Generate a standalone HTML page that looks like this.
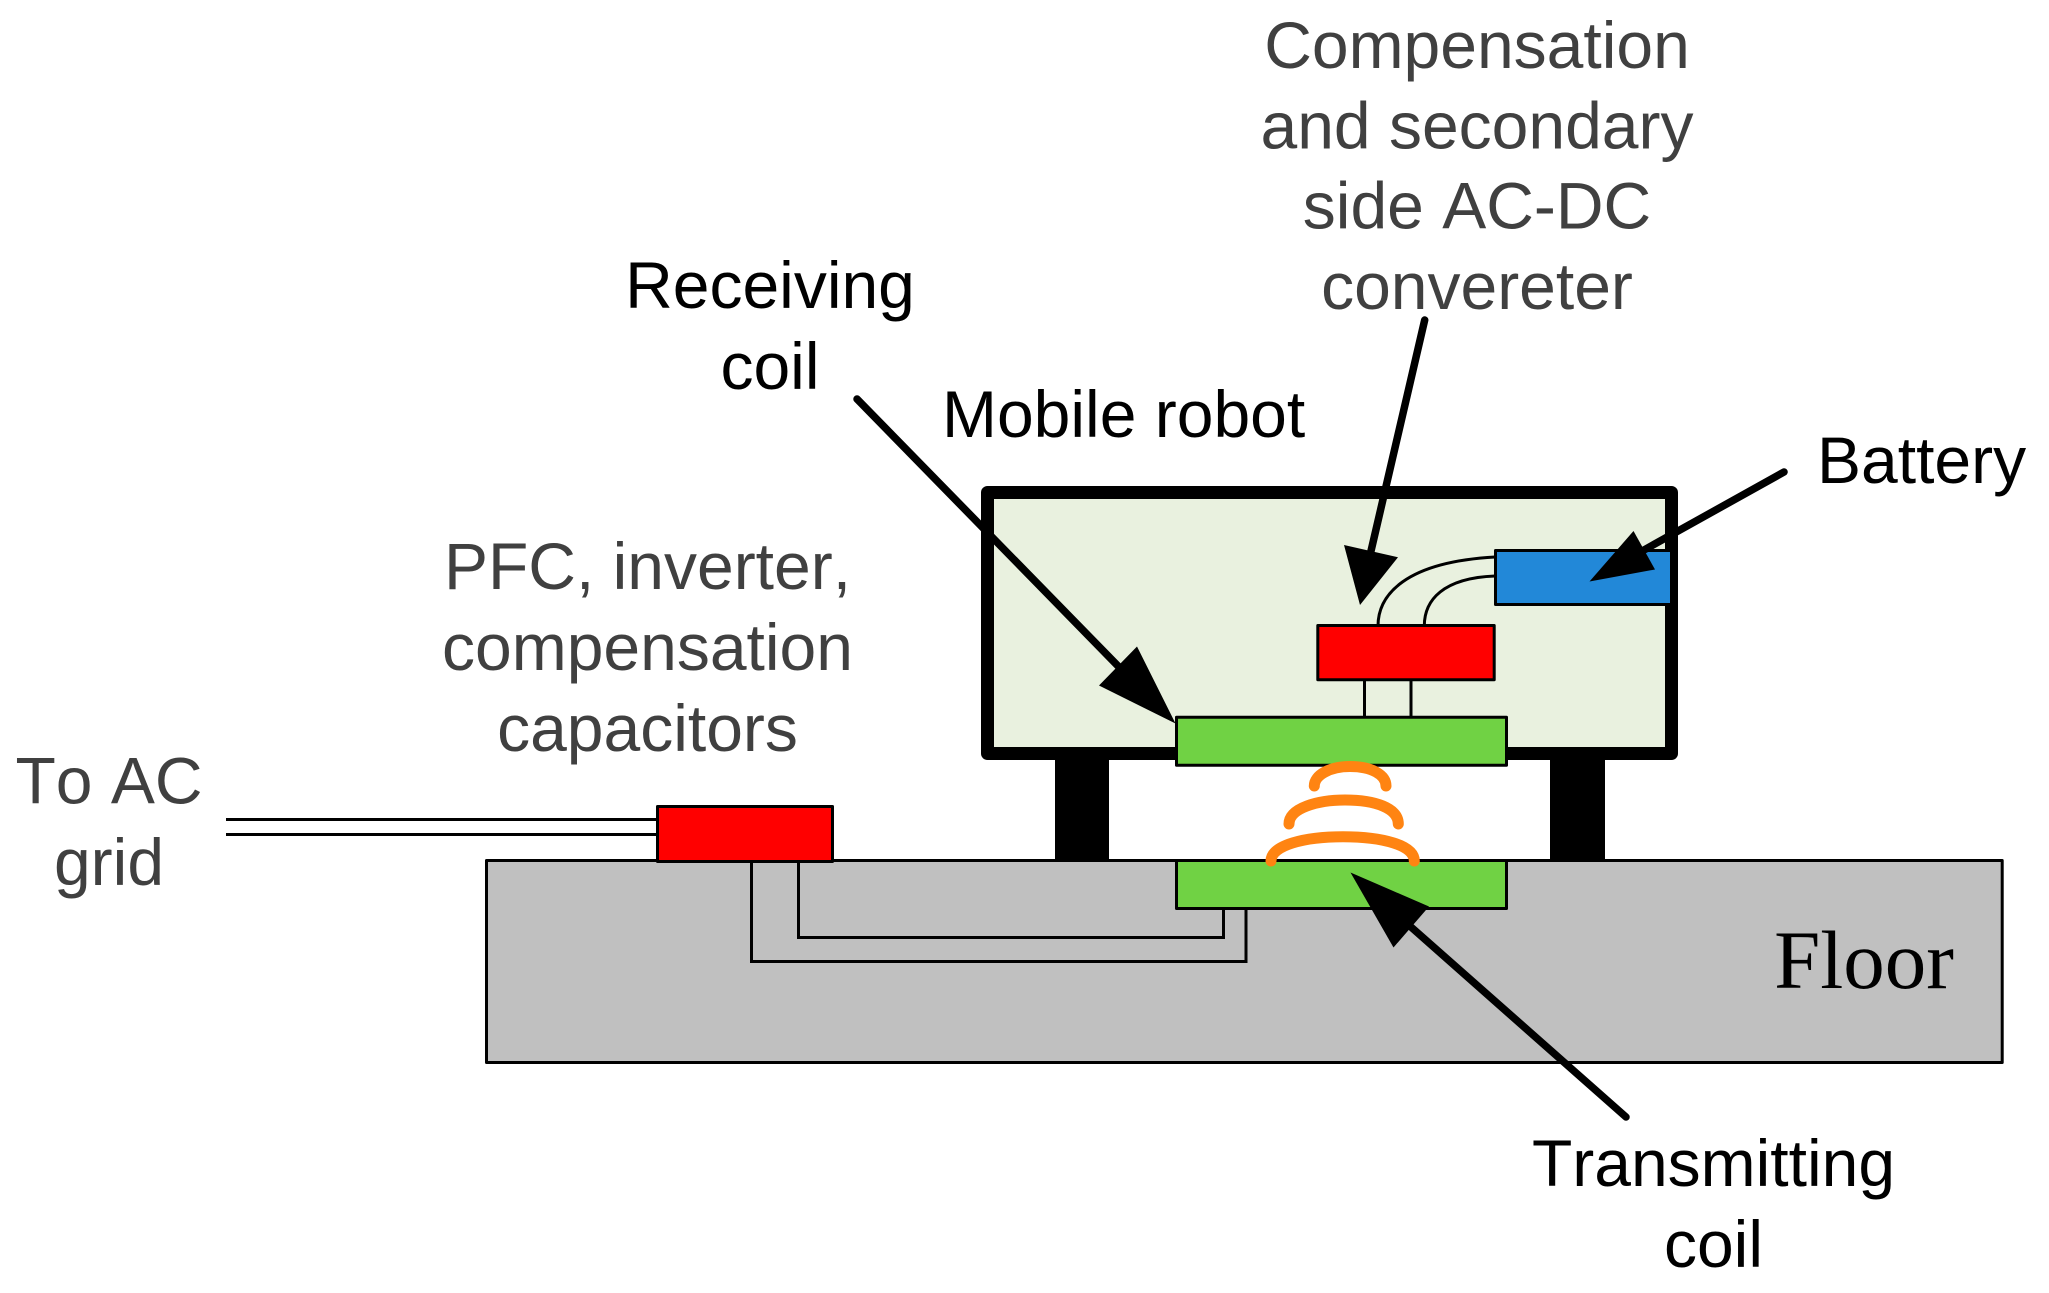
<!DOCTYPE html>
<html><head><meta charset="utf-8"><title>Wireless charging diagram</title>
<style>html,body{margin:0;padding:0;background:#fff}svg{display:block}
text{font-family:"Liberation Sans",Arial,sans-serif;font-size:66px;text-anchor:middle;font-kerning:none}
.g{fill:#404040}.k{fill:#000}</style></head>
<body>
<svg width="2049" height="1293" viewBox="0 0 2049 1293" xmlns="http://www.w3.org/2000/svg">
<rect width="2049" height="1293" fill="#fff"/>
<!-- floor -->
<rect x="486.500" y="860.500" width="1515.700" height="202" fill="#c0c0c0" stroke="#000" stroke-width="3" stroke-linejoin="round"/>
<!-- grid wires -->
<g fill="none" stroke="#000" stroke-width="3">
<path d="M226 819.500H658M226 834.500H658"/>
<path d="M798.500 862V937.500H1223.500V908"/>
<path d="M751.500 862V961.500H1246V908"/>
</g>
<!-- legs -->
<rect x="1055" y="755" width="54" height="105" fill="#000"/>
<rect x="1550" y="755" width="55" height="105" fill="#000"/>
<!-- robot -->
<rect x="987.500" y="492.500" width="684" height="261" fill="#e9f1df" stroke="#000" stroke-width="13" stroke-linejoin="round"/>
<!-- inner wires -->
<g fill="none" stroke="#000" stroke-width="3">
<path d="M1364.500 680V717M1411 680V717"/>
<path d="M1378 626C1378 595 1405 562 1495 557"/>
<path d="M1424.300 626C1424.300 600 1443 578 1495 576"/>
</g>
<!-- boxes -->
<g stroke="#000" stroke-width="3" stroke-linejoin="round">
<rect x="1495.500" y="550.500" width="176" height="54" fill="#2288d8"/>
<rect x="1317.800" y="625.500" width="176.400" height="54.300" fill="#ff0000"/>
<rect x="1176.500" y="717.300" width="330" height="48" fill="#70d244"/>
<rect x="1176.500" y="860.500" width="330" height="48" fill="#70d244"/>
<rect x="657.500" y="806.500" width="175" height="55" fill="#ff0000"/>
</g>
<!-- coil arcs -->
<g fill="none" stroke="#ff8412" stroke-width="11" stroke-linecap="round">
<path d="M1314.300 786C1314.300 775 1330 766.500 1350 766.500C1372 766.500 1386 775 1386 786"/>
<path d="M1289 824C1289 808 1318 800 1345 800C1375 800 1398.300 808 1398.300 824"/>
<path d="M1271 861C1271 845 1305 836.700 1343 836.700C1382 836.700 1414.300 845 1414.300 861"/>
</g>
<!-- arrows -->
<g stroke="#000" stroke-width="7.500" stroke-linecap="round" fill="none">
<path d="M857 399L1118 666"/>
<path d="M1424.700 320L1371 551"/>
<path d="M1784 472L1644 550"/>
<path d="M1626 1117L1411 927"/>
</g>
<g fill="#000">
<path d="M1175.500 723.500L1137 646.500L1099 685.500Z"/>
<path d="M1360 605L1344 545L1398 557.300Z"/>
<path d="M1589.500 581.500L1633.500 531L1655 569.500Z"/>
<path d="M1350.500 872.500L1429 906.500L1393.500 947.500Z"/>
</g>
<!-- labels -->
<text class="g" x="1477" y="68">Compensation</text>
<text class="g" x="1477" y="148.500">and secondary</text>
<text class="g" x="1477" y="228.500">side AC-DC</text>
<text class="g" x="1477" y="309">convereter</text>
<text class="g" x="647.500" y="589">PFC, inverter,</text>
<text class="g" x="647.500" y="670">compensation</text>
<text class="g" x="647.500" y="751">capacitors</text>
<text class="g" x="109" y="803.500">To AC</text>
<text class="g" x="109" y="885">grid</text>
<text class="k" x="770" y="308">Receiving</text>
<text class="k" x="770" y="389">coil</text>
<text class="k" x="942" y="437" style="text-anchor:start">Mobile robot</text>
<text class="k" x="1817" y="483" style="text-anchor:start">Battery</text>
<text class="k" x="1713.500" y="1186">Transmitting</text>
<text class="k" x="1713.500" y="1267">coil</text>
<text x="1864" y="988" style="font-family:'Liberation Serif','Times New Roman',serif;font-size:83px" fill="#000">Floor</text>
</svg>
</body></html>
